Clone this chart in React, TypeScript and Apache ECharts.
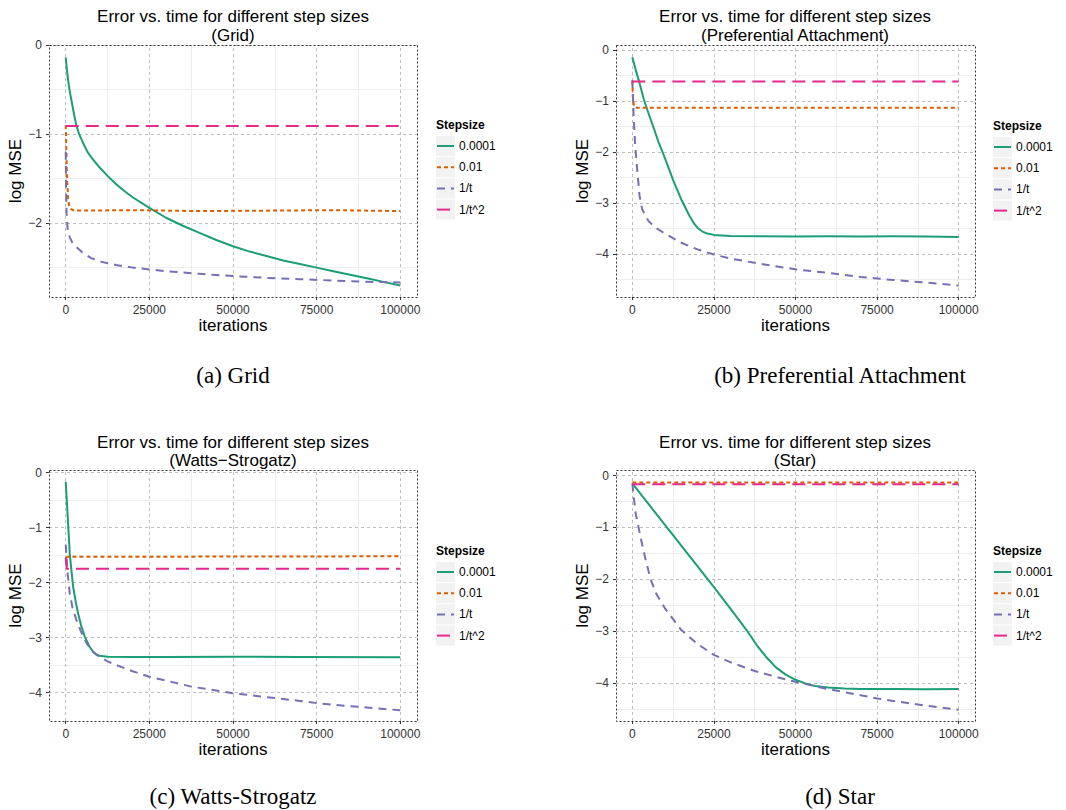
import React, { useEffect, useRef } from "react";
import * as echarts from "echarts";

// ---------- shared scales / labels ----------
const stepLabels = ["0.0001", "0.01", "1/t", "1/t^2"];
const xTicks = [0, 25000, 50000, 75000, 100000];
const xMinor = [12500, 37500, 62500, 87500];

// ---------- (a) Grid ----------
const gridS0001 = [[0,-0.14],[300,-0.26],[700,-0.39],[1200,-0.52],[1700,-0.62],[2500,-0.78],[3200,-0.91],[4000,-1.0],[5200,-1.1],[6500,-1.2],[8000,-1.28],[10000,-1.37],[12500,-1.47],[15000,-1.56],[17500,-1.64],[20000,-1.71],[25000,-1.83],[30000,-1.94],[35000,-2.03],[40000,-2.11],[45000,-2.19],[50000,-2.26],[55000,-2.32],[60000,-2.37],[65000,-2.42],[70000,-2.46],[75000,-2.5],[80000,-2.54],[85000,-2.58],[90000,-2.62],[95000,-2.66],[100000,-2.7]];
const gridS001 = [[0,-0.9],[200,-1.2],[400,-1.5],[700,-1.72],[1000,-1.8],[1500,-1.84],[2500,-1.86],[20000,-1.855],[40000,-1.865],[60000,-1.86],[80000,-1.855],[100000,-1.865]];
const gridS1t = [[0,-1.2],[100,-1.6],[250,-1.9],[600,-2.08],[1200,-2.16],[2000,-2.22],[3500,-2.28],[5000,-2.33],[7500,-2.39],[10000,-2.43],[15000,-2.47],[20000,-2.5],[25000,-2.52],[30000,-2.54],[40000,-2.57],[50000,-2.595],[60000,-2.615],[70000,-2.63],[80000,-2.645],[90000,-2.66],[100000,-2.667]];
const gridS1t2 = [[0,-0.91],[100000,-0.91]];

// ---------- (b) Preferential Attachment ----------
const paS0001 = [[0,-0.14],[1000,-0.38],[2000,-0.6],[3500,-0.96],[5000,-1.25],[6500,-1.52],[8000,-1.8],[10000,-2.12],[12500,-2.55],[15000,-2.93],[17500,-3.25],[19000,-3.41],[20000,-3.49],[21500,-3.56],[23000,-3.6],[25000,-3.625],[30000,-3.645],[40000,-3.65],[50000,-3.655],[60000,-3.65],[70000,-3.655],[80000,-3.65],[90000,-3.655],[100000,-3.665]];
const paS001 = [[0,-0.6],[200,-0.95],[500,-1.1],[1000,-1.13],[100000,-1.13]];
const paS1t = [[0,-0.59],[400,-1.3],[900,-1.9],[1500,-2.35],[2200,-2.85],[3000,-3.12],[5000,-3.36],[7500,-3.5],[10000,-3.6],[15000,-3.78],[20000,-3.91],[25000,-4.01],[30000,-4.09],[40000,-4.2],[50000,-4.3],[60000,-4.37],[70000,-4.45],[75000,-4.48],[80000,-4.51],[90000,-4.56],[100000,-4.62]];
const paS1t2 = [[0,-0.62],[100000,-0.62]];

// ---------- (c) Watts-Strogatz ----------
const wsS0001 = [[0,-0.164],[500,-0.7],[1200,-1.47],[2200,-2.07],[3000,-2.35],[3700,-2.56],[4700,-2.8],[5700,-2.98],[7000,-3.15],[8200,-3.26],[9200,-3.31],[10200,-3.33],[12500,-3.345],[20000,-3.35],[30000,-3.35],[50000,-3.345],[70000,-3.35],[100000,-3.355]];
const wsS001 = [[0,-1.55],[500,-1.53],[100000,-1.52]];
const wsS1t = [[0,-1.31],[600,-1.85],[1200,-2.19],[2000,-2.45],[3200,-2.68],[4500,-2.88],[6200,-3.1],[8000,-3.25],[10200,-3.35],[12500,-3.43],[15200,-3.5],[20000,-3.61],[25000,-3.71],[30000,-3.78],[37500,-3.89],[45000,-3.96],[50000,-4.01],[60000,-4.08],[70000,-4.15],[75000,-4.19],[80000,-4.22],[90000,-4.27],[100000,-4.32]];
const wsS1t2 = [[0,-1.55],[300,-1.745],[100000,-1.745]];

// ---------- (d) Star ----------
const stS0001 = [[0,-0.15],[5000,-0.55],[10000,-0.95],[15000,-1.35],[20000,-1.75],[25000,-2.15],[30000,-2.56],[35000,-2.98],[38000,-3.26],[41000,-3.5],[44000,-3.7],[47000,-3.84],[50000,-3.94],[53000,-4.01],[56000,-4.06],[60000,-4.09],[65000,-4.11],[70000,-4.12],[80000,-4.12],[90000,-4.125],[100000,-4.12]];
const stS001 = [[0,-0.13],[100000,-0.13]];
const stS1t = [[0,-0.15],[500,-0.45],[1000,-0.72],[2500,-1.18],[4000,-1.6],[5600,-2.0],[7500,-2.3],[10000,-2.56],[15000,-2.98],[20000,-3.25],[25000,-3.46],[30000,-3.6],[37500,-3.77],[45000,-3.9],[50000,-3.98],[60000,-4.12],[70000,-4.24],[75000,-4.3],[80000,-4.35],[90000,-4.44],[100000,-4.52]];
const stS1t2 = [[0,-0.165],[100000,-0.165]];

// y ranges and ticks per panel
const yRanges = [[-2.83, 0], [-4.843, 0.098], [-4.515, 0.049], [-4.736, 0.11]];
const yTicksList = [[0, -1, -2], [0, -1, -2, -3, -4], [0, -1, -2, -3, -4], [0, -1, -2, -3, -4]];
const yMinorList = [[-0.5, -1.5, -2.5], [-0.5, -1.5, -2.5, -3.5, -4.5], [-0.5, -1.5, -2.5, -3.5], [-0.5, -1.5, -2.5, -3.5, -4.5]];
const subtitles = ["(Grid)", "(Preferential Attachment)", "(Watts\u2212Strogatz)", "(Star)"];
const captions = ["(a) Grid", "(b) Preferential Attachment", "(c) Watts-Strogatz", "(d) Star"];
const panelData = [
  [gridS0001, gridS001, gridS1t, gridS1t2],
  [paS0001, paS001, paS1t, paS1t2],
  [wsS0001, wsS001, wsS1t, wsS1t2],
  [stS0001, stS001, stS1t, stS1t2],
];

// ---------- styling / layout ----------
const colors = ["#1B9E77", "#D95F02", "#7570B3", "#E7298A"];
const dashes: any[] = ["solid", [4, 3], [8, 6], [13, 7]];
const SANS = "'Liberation Sans', Arial, Helvetica, sans-serif";
const SERIF = "'Liberation Serif', 'Times New Roman', serif";
const boxes = [
  { left: 49, top: 45, width: 368, height: 252 },
  { left: 616, top: 45, width: 359, height: 252 },
  { left: 49, top: 470, width: 368, height: 251 },
  { left: 616, top: 470, width: 359, height: 251 },
];
const titlePos = [
  { cx: 233, y1: 16, y2: 35 },
  { cx: 795, y1: 16, y2: 35 },
  { cx: 233, y1: 442, y2: 460 },
  { cx: 795, y1: 442, y2: 460 },
];
const captionPos = [
  { cx: 233, y: 375 },
  { cx: 840, y: 375 },
  { cx: 233, y: 796 },
  { cx: 840, y: 796 },
];
const legendPos = [
  { x: 436, y: 125 },
  { x: 993, y: 126 },
  { x: 436, y: 551 },
  { x: 993, y: 551 },
];

const fmtX = (v: number) => String(v);
const fmtY = (v: number) => (v < 0 ? "\u2212" + Math.abs(v) : String(v));

function buildOption() {
  const grid: any[] = [];
  const xAxis: any[] = [];
  const yAxis: any[] = [];
  const series: any[] = [];
  const graphic: any[] = [];

  boxes.forEach((b, i) => {
    grid.push({ ...b, containLabel: false });
    xAxis.push({
      gridIndex: i,
      type: "value",
      min: -5000,
      max: 105000,
      axisLine: { show: false, onZero: false },
      splitLine: { show: false },
      axisTick: { show: true, customValues: xTicks, length: 3, lineStyle: { color: "#333" } },
      axisLabel: { customValues: xTicks, formatter: fmtX, color: "#333", fontSize: 12, fontFamily: SANS, margin: 7 },
      name: "iterations",
      nameLocation: "middle",
      nameGap: 19,
      nameTextStyle: { fontSize: 17, color: "#000", fontFamily: SANS },
    });
    const [ymin, ymax] = yRanges[i];
    yAxis.push({
      gridIndex: i,
      type: "value",
      min: ymin,
      max: ymax,
      axisLine: { show: false, onZero: false },
      splitLine: { show: false },
      axisTick: { show: true, customValues: yTicksList[i], length: 3, lineStyle: { color: "#333" } },
      axisLabel: { customValues: yTicksList[i], formatter: fmtY, color: "#333", fontSize: 12, fontFamily: SANS, margin: 7 },
      name: "log MSE",
      nameLocation: "middle",
      nameGap: 24,
      nameRotate: 90,
      nameTextStyle: { fontSize: 17, color: "#000", fontFamily: SANS },
    });

    // grid lines via markLine
    const ml: any[] = [];
    xMinor.forEach((v) => ml.push({ xAxis: v, lineStyle: { color: "#EDEDED", width: 1, type: "solid" } }));
    yMinorList[i].forEach((v) => ml.push({ yAxis: v, lineStyle: { color: "#EDEDED", width: 1, type: "solid" } }));
    xTicks.forEach((v) => ml.push({ xAxis: v, lineStyle: { color: "#BDBDBD", width: 1, type: [3, 3] } }));
    yTicksList[i].forEach((v) => ml.push({ yAxis: v, lineStyle: { color: "#BDBDBD", width: 1, type: [3, 3] } }));
    series.push({
      type: "line",
      xAxisIndex: i,
      yAxisIndex: i,
      data: [],
      silent: true,
      z: 1,
      markLine: { silent: true, z: 1, symbol: ["none", "none"], label: { show: false }, animation: false, data: ml },
    });

    panelData[i].forEach((d, k) => {
      series.push({
        type: "line",
        name: stepLabels[k],
        xAxisIndex: i,
        yAxisIndex: i,
        data: d,
        showSymbol: false,
        symbol: "none",
        z: 3,
        lineStyle: { color: colors[k], width: 2, type: dashes[k], join: "round" },
      });
    });

    // panel border
    graphic.push({
      type: "rect",
      silent: true,
      z: 10,
      shape: { x: b.left + 0.5, y: b.top + 0.5, width: b.width, height: b.height },
      style: { fill: "none", stroke: "#333", lineWidth: 1, lineDash: [2, 2] },
    });

    // titles
    const t = titlePos[i];
    graphic.push({
      type: "text",
      x: t.cx,
      y: t.y1,
      silent: true,
      style: { text: "Error vs. time for different step sizes", align: "center", verticalAlign: "middle", fontSize: 17, fontFamily: SANS, fill: "#000" },
    });
    graphic.push({
      type: "text",
      x: t.cx,
      y: t.y2,
      silent: true,
      style: { text: subtitles[i], align: "center", verticalAlign: "middle", fontSize: 17, fontFamily: SANS, fill: "#000" },
    });

    // captions
    const c = captionPos[i];
    graphic.push({
      type: "text",
      x: c.cx,
      y: c.y,
      silent: true,
      style: { text: captions[i], align: "center", verticalAlign: "middle", fontSize: 23, fontFamily: SERIF, fill: "#000" },
    });

    // legend
    const L = legendPos[i];
    graphic.push({
      type: "text",
      x: L.x,
      y: L.y,
      silent: true,
      style: { text: "Stepsize", align: "left", verticalAlign: "middle", fontSize: 12, fontWeight: "bold", fontFamily: SANS, fill: "#000" },
    });
    stepLabels.forEach((lab, k) => {
      const cy = L.y + 21 + 21.2 * k;
      graphic.push({
        type: "rect",
        silent: true,
        shape: { x: L.x, y: cy - 10, width: 19, height: 20 },
        style: { fill: "#F2F2F2", stroke: "none" },
      });
      graphic.push({
        type: "line",
        silent: true,
        shape: { x1: L.x + 1, y1: cy, x2: L.x + 18, y2: cy },
        style: { stroke: colors[k], lineWidth: 2, lineDash: dashes[k] === "solid" ? null : dashes[k] },
      });
      graphic.push({
        type: "text",
        x: L.x + 23,
        y: cy,
        silent: true,
        style: { text: lab, align: "left", verticalAlign: "middle", fontSize: 12, fontFamily: SANS, fill: "#000" },
      });
    });
  });

  return {
    animation: false,
    backgroundColor: "#fff",
    grid,
    xAxis,
    yAxis,
    series,
    graphic,
  };
}

export default function App() {
  const ref = useRef<HTMLDivElement>(null);
  useEffect(() => {
    if (!ref.current) return;
    const chart = echarts.init(ref.current, null, { renderer: "svg" });
    chart.setOption(buildOption() as any);
    return () => chart.dispose();
  }, []);
  return <div ref={ref} style={{ position: "absolute", left: 0, top: 0, width: 1066, height: 810 }} />;
}
